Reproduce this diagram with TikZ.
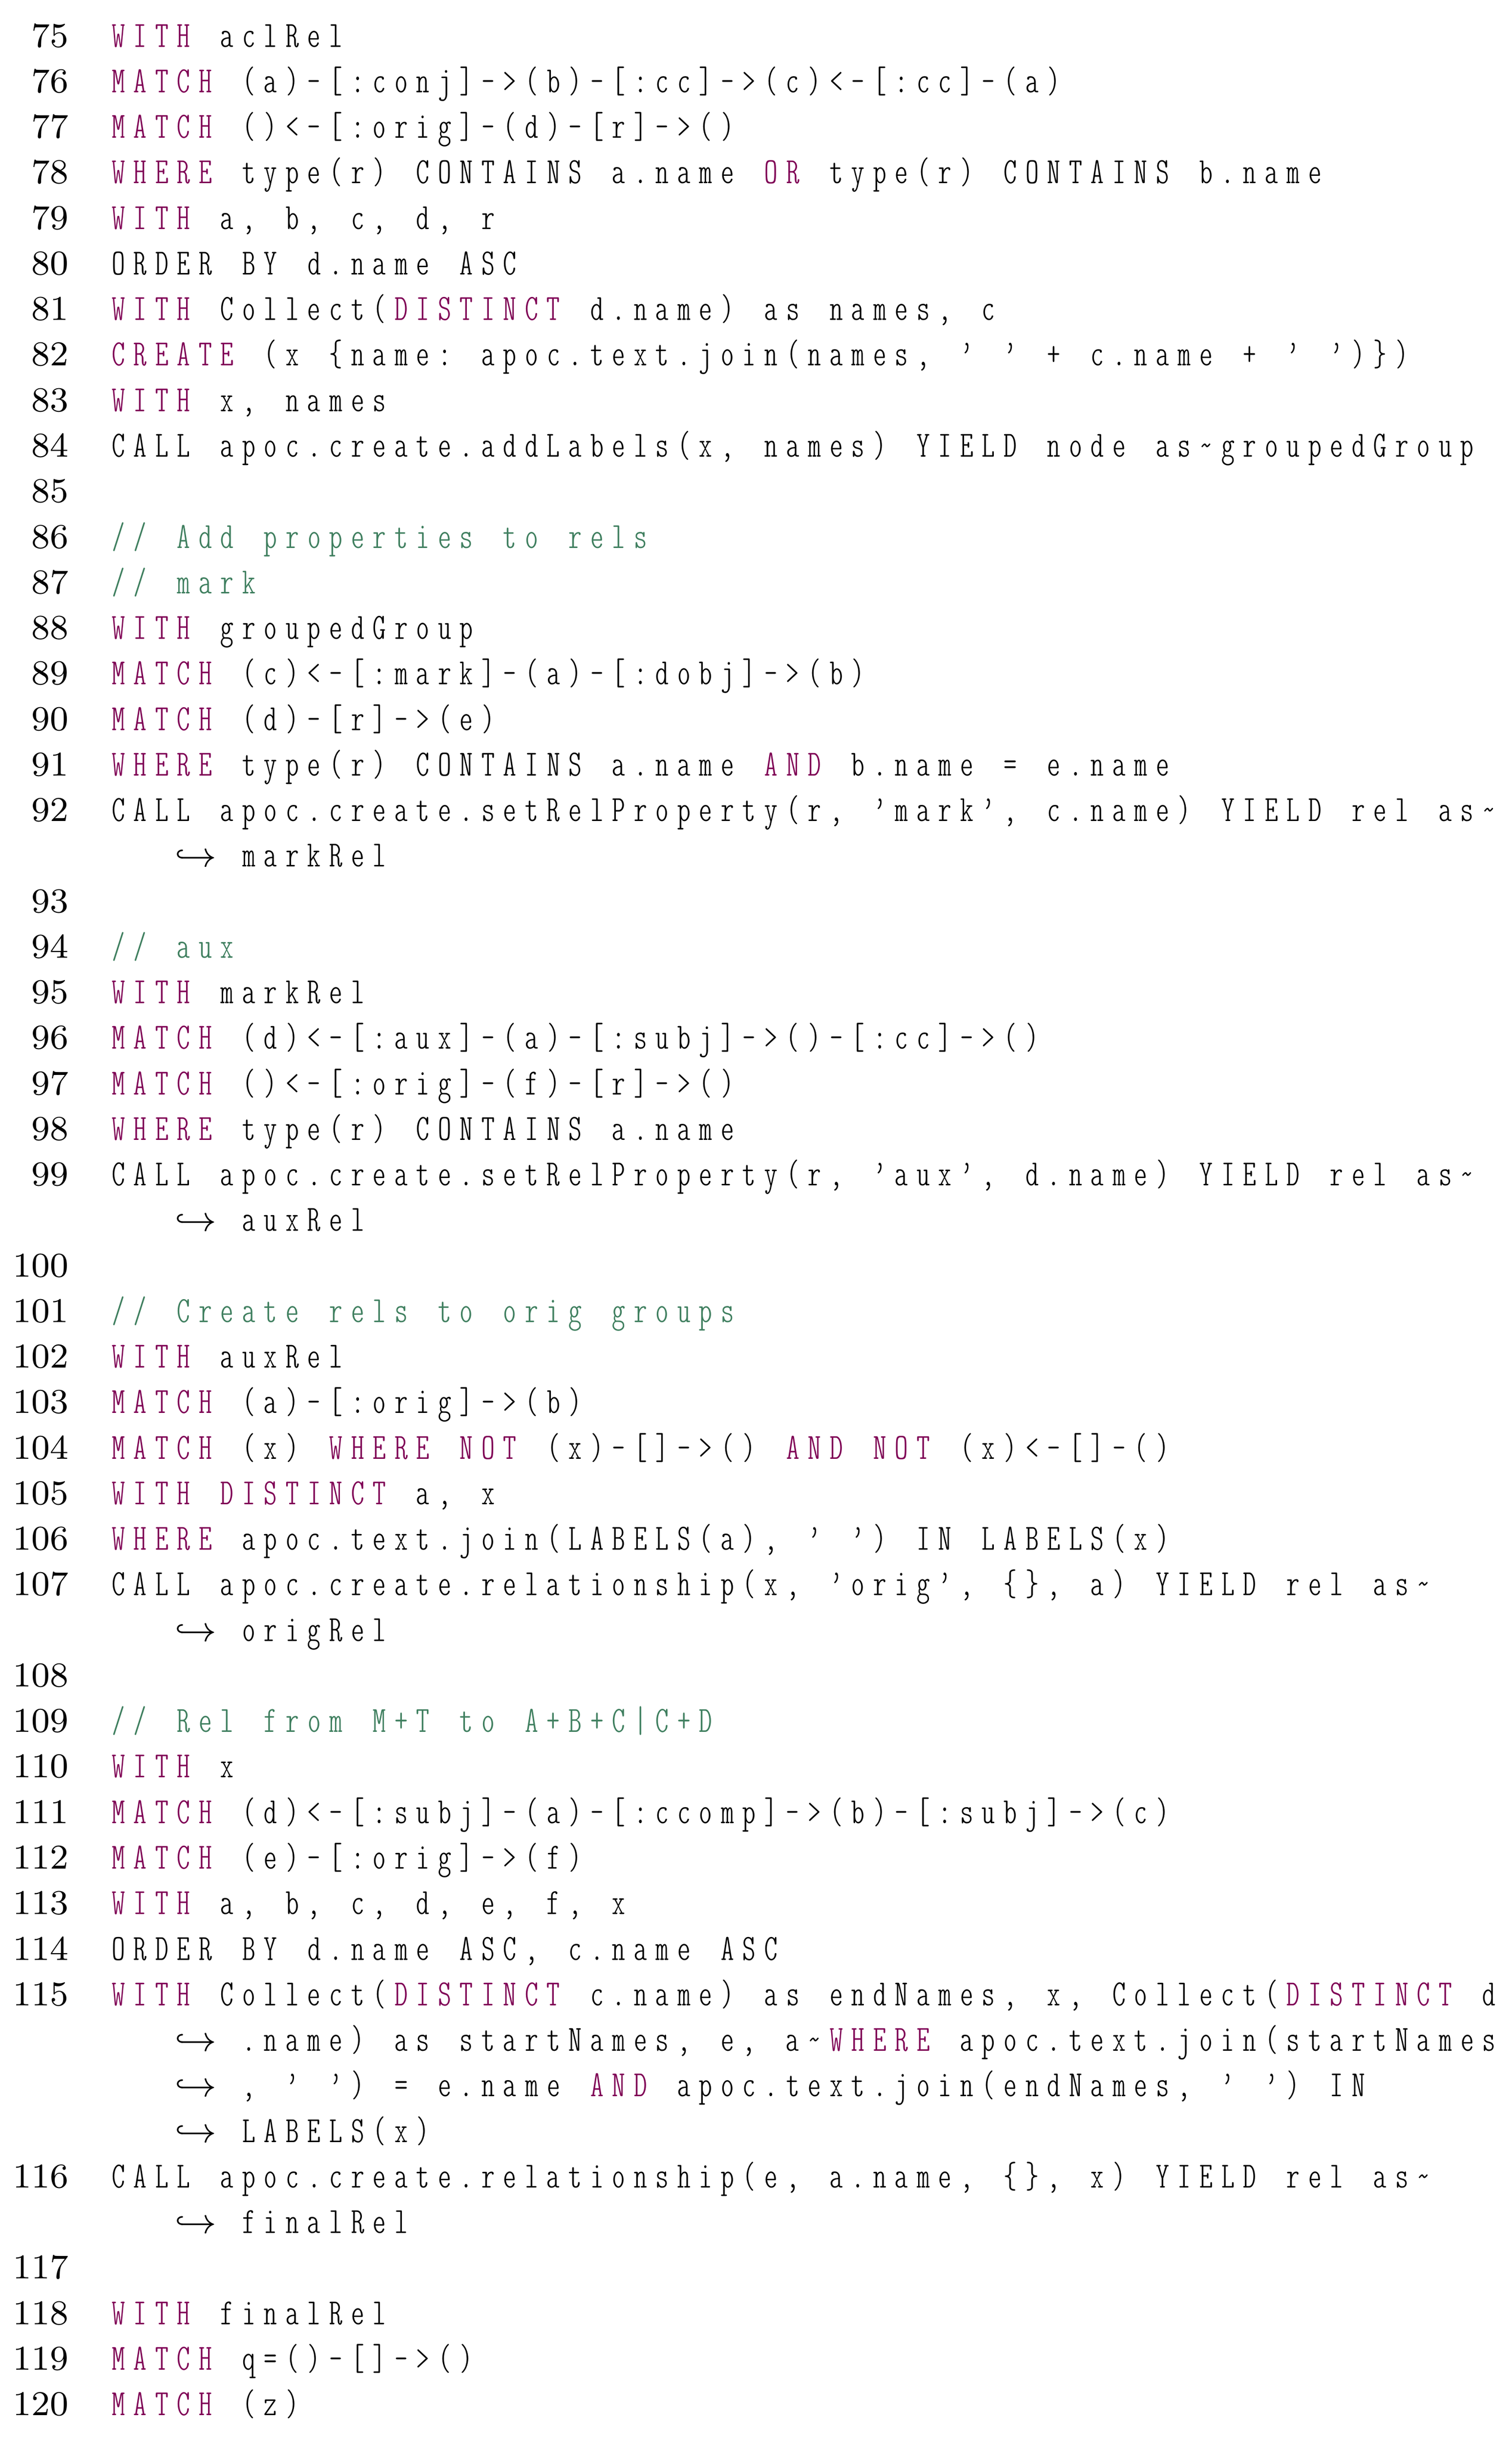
\documentclass[tikz,border=0pt]{standalone}
\definecolor{kwc}{HTML}{7F0055}
\definecolor{cmc}{HTML}{3F7F5F}
\def\kw{KWMARK}\def\bk{BKMARK}\def\cm{CMMARK}\def\fxend{FXENDMARK}
\newcommand\qq{\textquoteright}
\newcommand\fxchar[1]{\ifx#1_\hbox to5pt{}\else\ifx#1\kw\color{kwc}\else\ifx#1\bk\color{black}\else\ifx#1\cm\color{cmc}\else\hbox to5pt{\hss#1\hss}\fi\fi\fi\fi}
\newcommand\fx[1]{\ifx#1\fxend\else\fxchar{#1}\expandafter\fx\fi}
\tikzset{code/.style={anchor=base west,inner sep=0pt,font=\fontsize{8.5}{10}\ttfamily\fontseries{lc}\selectfont},
lnum/.style={anchor=base east,inner sep=0pt,font=\fontsize{8}{10}\selectfont\rmfamily},
hook/.style={anchor=base,inner sep=0pt,font=\fontsize{8.5}{10}\selectfont}}
\newcommand\Row[3]{\node[code] (r#1) at (24.5pt,{-10.8pt-#1*10.467pt}) {\fx#3\fxend};\node[lnum] (n#1) at (15.9pt,{-10.8pt-#1*10.467pt}) {#2};}
\newcommand\Cont[2]{\node[hook] (h#1) at (45pt,{-10.8pt-#1*10.467pt}) {$\hookrightarrow$};\node[code] (r#1) at (54.5pt,{-10.8pt-#1*10.467pt}) {\fx#2\fxend};}
\newcommand\Num[2]{\node[lnum] (n#1) at (15.9pt,{-10.8pt-#1*10.467pt}) {#2};}
\begin{document}
\begin{tikzpicture}
\useasboundingbox (0,0) rectangle (347.4pt,-561.2pt);
\Row{0}{75}{\kw WITH\bk _aclRel}
\Row{1}{76}{\kw MATCH\bk _(a)-[:conj]->(b)-[:cc]->(c)<-[:cc]-(a)}
\Row{2}{77}{\kw MATCH\bk _()<-[:orig]-(d)-[r]->()}
\Row{3}{78}{\kw WHERE\bk _type(r)_CONTAINS_a.name_\kw OR\bk _type(r)_CONTAINS_b.name}
\Row{4}{79}{\kw WITH\bk _a,_b,_c,_d,_r}
\Row{5}{80}{ORDER_BY_d.name_ASC}
\Row{6}{81}{\kw WITH\bk _Collect(\kw DISTINCT\bk _d.name)_as_names,_c}
\Row{7}{82}{\kw CREATE\bk _(x_\{name:_apoc.text.join(names,_\qq _\qq _+_c.name_+_\qq _\qq )\})}
\Row{8}{83}{\kw WITH\bk _x,_names}
\Row{9}{84}{CALL_apoc.create.addLabels(x,_names)_YIELD_node_as\textasciitilde groupedGroup}
\Num{10}{85}
\Row{11}{86}{\cm //_Add_properties_to_rels}
\Row{12}{87}{\cm //_mark}
\Row{13}{88}{\kw WITH\bk _groupedGroup}
\Row{14}{89}{\kw MATCH\bk _(c)<-[:mark]-(a)-[:dobj]->(b)}
\Row{15}{90}{\kw MATCH\bk _(d)-[r]->(e)}
\Row{16}{91}{\kw WHERE\bk _type(r)_CONTAINS_a.name_\kw AND\bk _b.name_=_e.name}
\Row{17}{92}{CALL_apoc.create.setRelProperty(r,_\qq mark\qq ,_c.name)_YIELD_rel_as\textasciitilde}
\Cont{18}{markRel}
\Num{19}{93}
\Row{20}{94}{\cm //_aux}
\Row{21}{95}{\kw WITH\bk _markRel}
\Row{22}{96}{\kw MATCH\bk _(d)<-[:aux]-(a)-[:subj]->()-[:cc]->()}
\Row{23}{97}{\kw MATCH\bk _()<-[:orig]-(f)-[r]->()}
\Row{24}{98}{\kw WHERE\bk _type(r)_CONTAINS_a.name}
\Row{25}{99}{CALL_apoc.create.setRelProperty(r,_\qq aux\qq ,_d.name)_YIELD_rel_as\textasciitilde}
\Cont{26}{auxRel}
\Num{27}{100}
\Row{28}{101}{\cm //_Create_rels_to_orig_groups}
\Row{29}{102}{\kw WITH\bk _auxRel}
\Row{30}{103}{\kw MATCH\bk _(a)-[:orig]->(b)}
\Row{31}{104}{\kw MATCH\bk _(x)_\kw WHERE_NOT\bk _(x)-[]->()_\kw AND_NOT\bk _(x)<-[]-()}
\Row{32}{105}{\kw WITH_DISTINCT\bk _a,_x}
\Row{33}{106}{\kw WHERE\bk _apoc.text.join(LABELS(a),_\qq _\qq )_IN_LABELS(x)}
\Row{34}{107}{CALL_apoc.create.relationship(x,_\qq orig\qq ,_\{\},_a)_YIELD_rel_as\textasciitilde}
\Cont{35}{origRel}
\Num{36}{108}
\Row{37}{109}{\cm //_Rel_from_M+T_to_A+B+C|C+D}
\Row{38}{110}{\kw WITH\bk _x}
\Row{39}{111}{\kw MATCH\bk _(d)<-[:subj]-(a)-[:ccomp]->(b)-[:subj]->(c)}
\Row{40}{112}{\kw MATCH\bk _(e)-[:orig]->(f)}
\Row{41}{113}{\kw WITH\bk _a,_b,_c,_d,_e,_f,_x}
\Row{42}{114}{ORDER_BY_d.name_ASC,_c.name_ASC}
\Row{43}{115}{\kw WITH\bk _Collect(\kw DISTINCT\bk _c.name)_as_endNames,_x,_Collect(\kw DISTINCT\bk _d}
\Cont{44}{.name)_as_startNames,_e,_a\textasciitilde\kw WHERE\bk _apoc.text.join(startNames}
\Cont{45}{,_\qq _\qq )_=_e.name_\kw AND\bk _apoc.text.join(endNames,_\qq _\qq )_IN}
\Cont{46}{LABELS(x)}
\Row{47}{116}{CALL_apoc.create.relationship(e,_a.name,_\{\},_x)_YIELD_rel_as\textasciitilde}
\Cont{48}{finalRel}
\Num{49}{117}
\Row{50}{118}{\kw WITH\bk _finalRel}
\Row{51}{119}{\kw MATCH\bk _q=()-[]->()}
\Row{52}{120}{\kw MATCH\bk _(z)}
\end{tikzpicture}
\end{document}
